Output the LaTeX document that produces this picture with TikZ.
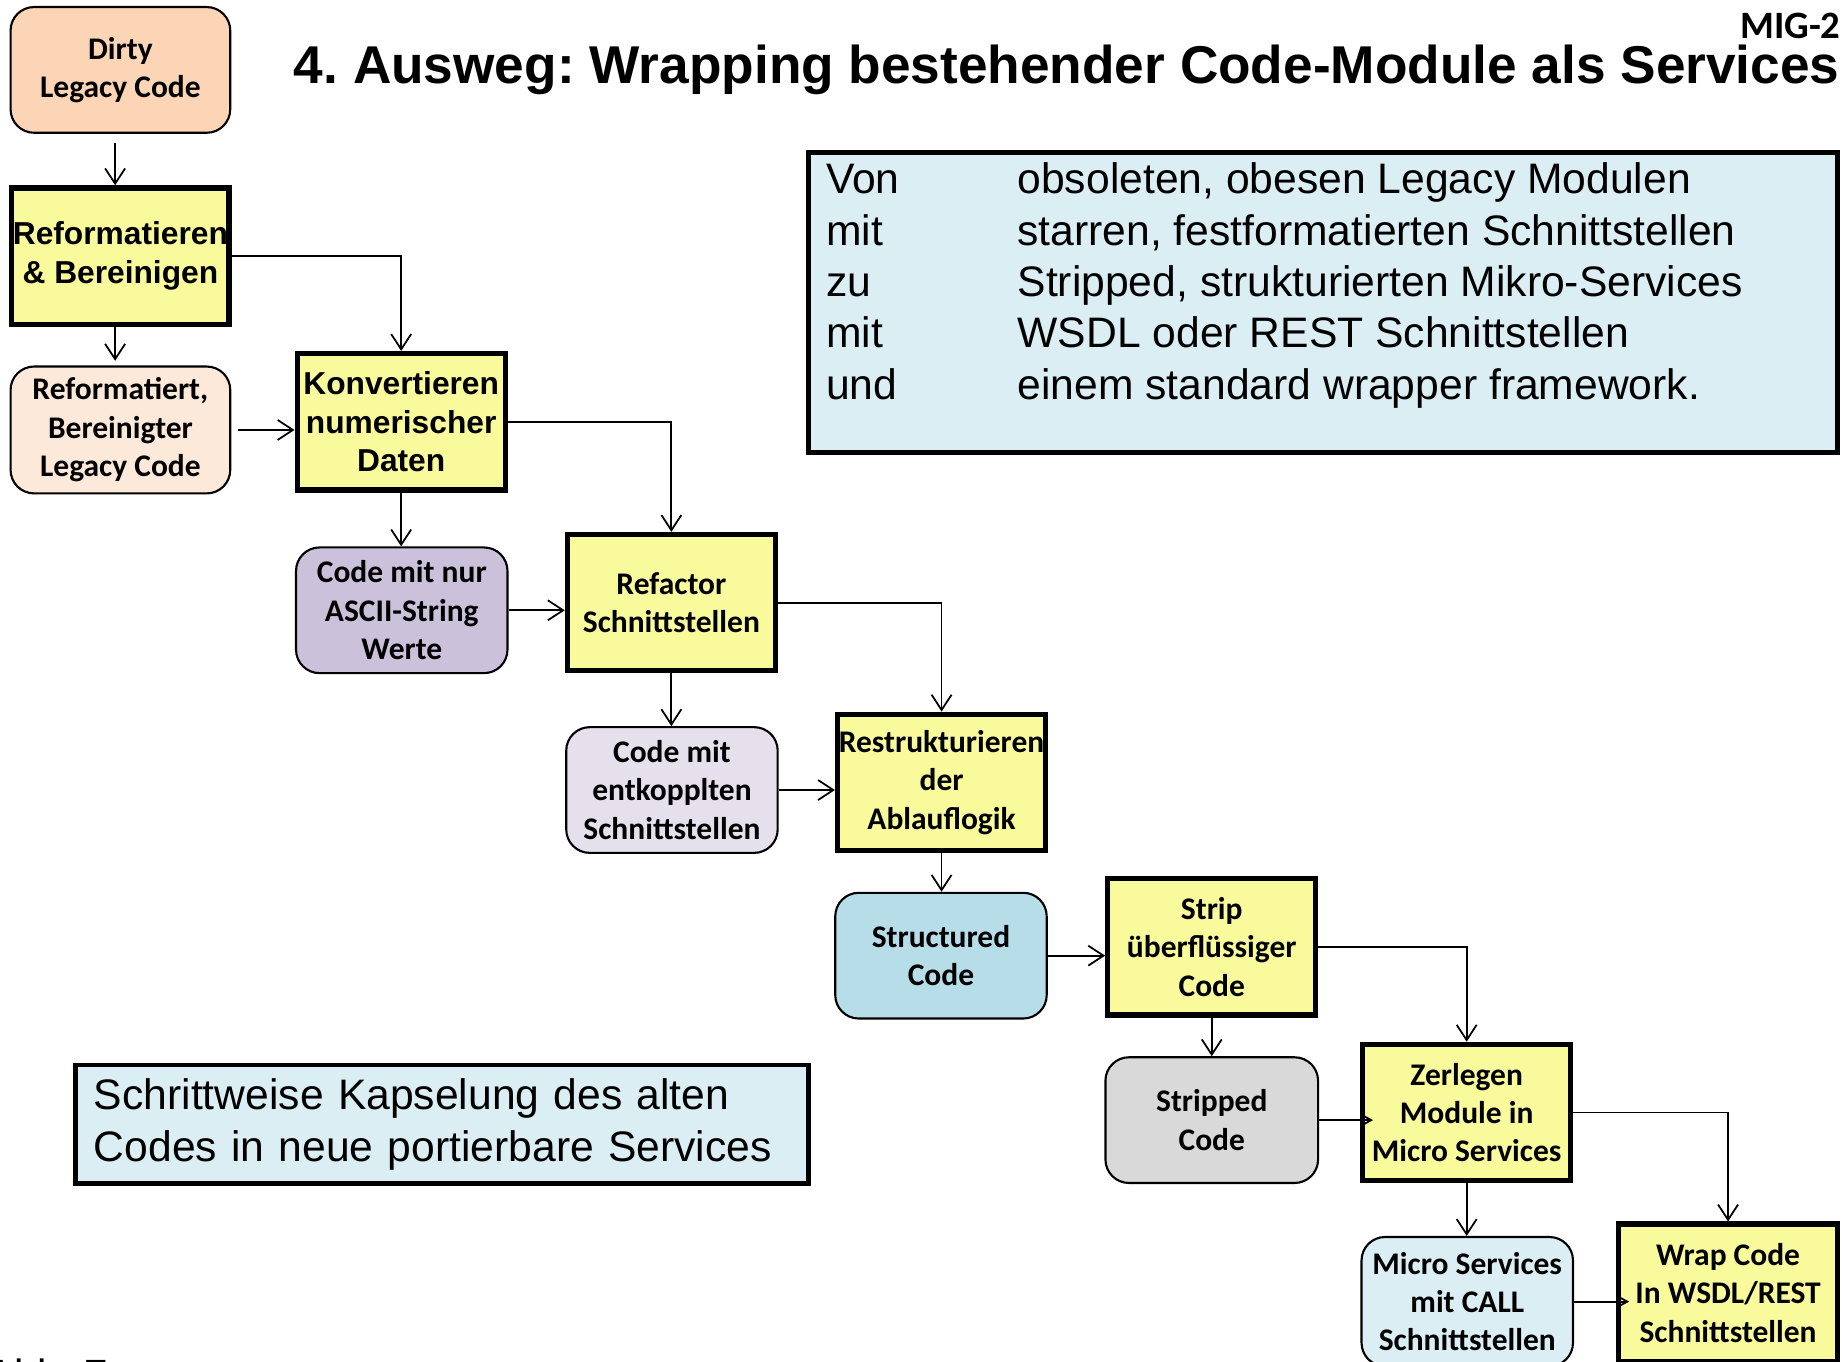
\documentclass[tikz,border=0pt]{standalone}
\usepackage{fontspec}
\setmainfont{Liberation Sans}
\newfontfamily\calibrifont{Carlito}
\usetikzlibrary{arrows.meta}
\frenchspacing

\definecolor{stepyellow}{HTML}{F9FA9C}
\definecolor{dirtyfill}{HTML}{FBD5B5}
\definecolor{cleanfill}{HTML}{FDE9D9}
\definecolor{asciifill}{HTML}{CCC1DA}
\definecolor{decoupfill}{HTML}{E5E0EC}
\definecolor{structfill}{HTML}{B7DEE8}
\definecolor{strippedfill}{HTML}{D9D9D9}
\definecolor{microfill}{HTML}{DBEEF4}
\definecolor{notefill}{HTML}{DBEEF4}

\newcommand\boxlabelfont{\calibrifont\bfseries\fontsize{26.8}{32.7}\selectfont}
\newcommand\widelabelfont{\bfseries\fontsize{27}{33}\selectfont}
\newcommand\notefont{\fontsize{36.3}{43.7}\selectfont}

\tikzset{
  stepbox/.style={draw, line width=4.5pt, fill=stepyellow, minimum width=177pt,
    minimum height=116pt, inner sep=0pt, align=center, font=\boxlabelfont},
  databox/.style={draw, line width=1.8pt, rounded corners=20pt, minimum width=180pt,
    minimum height=107pt, inner sep=0pt, align=center, font=\boxlabelfont},
  notebox/.style={draw, line width=4pt, fill=notefill, inner sep=0pt},
  conn/.style={line width=1.5pt, -{Straight Barb[length=13pt,width=17pt,line width=1.5pt]}},
  intoconn/.style={line width=1.5pt, shorten >=-11pt,
    -{Straight Barb[length=9pt,width=10pt,line width=1.5pt]}},
}

\begin{document}
\begin{tikzpicture}[x=1pt, y=-1pt]
\clip (0,0) rectangle (1568,1159);
\fill[white] (0,0) rectangle (1568,1159);

% title and page tag
\node[anchor=base west, inner sep=0pt, font=\bfseries\fontsize{45.3}{54}\selectfont] (title)
  at (250,71) {4. Ausweg: Wrapping bestehender Code-Module als Services};
\node[anchor=base east, inner sep=0pt, font=\calibrifont\bfseries\fontsize{33}{40}\selectfont] (tag)
  at (1567,33) {MIG-2};

% summary boxes
\node[notebox, anchor=north west, minimum width=876pt, minimum height=255pt] (summary) at (686,128) {};
\node[anchor=base west, inner sep=0pt, font=\notefont] (summarytext) at (703,165)
  {\begin{tabular}[t]{@{}p{163pt}@{}l@{}}
   Von & obsoleten, obesen Legacy Modulen\\
   mit & starren, festformatierten Schnittstellen\\
   zu  & Stripped, strukturierten Mikro-Services\\
   mit & WSDL oder REST Schnittstellen\\
   und & einem standard wrapper framework.
   \end{tabular}};
\node[notebox, minimum width=624pt, minimum height=101pt, text width=592pt, inner xsep=16pt,
  align=left, font=\fontsize{36.3}{44}\selectfont] (caption) at (376,957)
  {Schrittweise Kapselung des alten\\Codes in neue portierbare Services};

% figure reference, running off the lower edge
\node[anchor=base west, inner sep=0pt, font=\fontsize{36}{43}\selectfont] (figref) at (-12,1183) {Abb. 7};

% process steps and intermediate results
\node[databox, fill=dirtyfill, minimum width=187pt] (dirty) at (102.5,59.5) {Dirty\\Legacy Code};
\node[stepbox, minimum width=185pt, font=\widelabelfont] (reform) at (102.5,218) {Reformatieren\\\& Bereinigen};
\node[databox, fill=cleanfill, minimum width=187pt, minimum height=108pt] (clean) at (102.5,366) {Reformatiert,\\Bereinigter\\Legacy Code};
\node[stepbox, font=\widelabelfont] (konv) at (341.5,359) {Konvertieren\\numerischer\\Daten};
\node[databox, fill=asciifill] (ascii) at (342,519.5) {Code mit nur\\ASCII-String\\Werte};
\node[stepbox] (refactor) at (571.5,513) {Refactor\\Schnittstellen};
\node[databox, fill=decoupfill] (decoup) at (572,672.5) {Code mit\\entkopplten\\Schnittstellen};
\node[stepbox] (restr) at (801.5,666) {Restrukturieren\\der\\Ablauflogik};
\node[databox, fill=structfill] (struct) at (801,813.5) {Structured\\Code};
\node[stepbox] (strip) at (1031.5,806) {Strip\\überflüssiger\\Code};
\node[databox, fill=strippedfill, minimum width=181pt] (stripped) at (1031.5,953.5) {Stripped\\Code};
\node[stepbox] (zerl) at (1248.5,947) {Zerlegen\\Module in\\Micro Services};
\node[databox, fill=microfill, minimum height=110pt] (micro) at (1249,1108) {Micro Services\\mit CALL\\Schnittstellen};
\node[stepbox, minimum width=186pt, minimum height=117pt] (wrap) at (1471,1100.5) {Wrap Code\\In WSDL/REST\\Schnittstellen};

% connectors
\draw[conn, shorten <=8pt] ([xshift=-4.5pt]dirty.south) -- ([xshift=-4.5pt]reform.north);
\draw[conn, shorten <=-4pt, shorten >=4pt] ([xshift=-4.5pt]reform.south) -- ([xshift=-4.5pt]clean.north);
\draw[conn] (reform.east) -| (konv.north);
\draw[conn, shorten <=6pt] (clean.east) -- (clean.east -| konv.west);
\draw[conn] (konv.east) -| (refactor.north);
\draw[conn] (konv.south) -- (konv.south |- ascii.north);
\draw[conn] (ascii.east) -- (ascii.east -| refactor.west);
\draw[conn] (refactor.east) -| (restr.north);
\draw[conn] (refactor.south) -- (refactor.south |- decoup.north);
\draw[conn] (decoup.east) -- (decoup.east -| restr.west);
\draw[conn] (restr.south) -- (restr.south |- struct.north);
\draw[conn] (struct.east) -- (struct.east -| strip.west);
\draw[conn] (strip.east) -| (zerl.north);
\draw[conn] (strip.south) -- (strip.south |- stripped.north);
\draw[intoconn] (stripped.east) -- (stripped.east -| zerl.west);
\draw[conn] (zerl.east) -| (wrap.north);
\draw[conn] (zerl.south) -- (zerl.south |- micro.north);
\draw[intoconn] (micro.east) -- (micro.east -| wrap.west);
\end{tikzpicture}
\end{document}
